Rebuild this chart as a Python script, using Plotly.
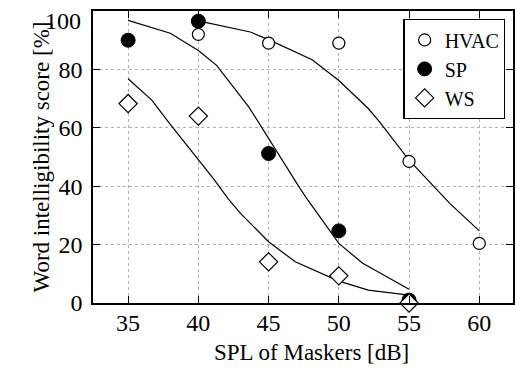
import plotly.graph_objects as go

# Measured data
spl = [35, 40, 45, 50, 55, 60]
hvac_x = [40, 45, 50, 55, 60]
hvac_y = [92, 89, 89, 48.5, 20.4]
sp_x = [35, 40, 45, 50, 55]
sp_y = [90, 96.5, 51.2, 24.7, 1]
ws_x = [35, 40, 45, 50, 55]
ws_y = [68.3, 64, 14.1, 9.3, 0]

# Fitted curves
hvac_fit_x = [40, 43.7, 45, 48.1, 50, 52.1, 52.9, 55, 57.9, 60]
hvac_fit_y = [96.6, 92.8, 90.2, 83.3, 76.2, 66.6, 62.0, 48.9, 34.1, 24.7]
sp_fit_x = [35, 38, 40, 41.3, 43.6, 45, 47.1, 47.8, 50, 51.7, 55]
sp_fit_y = [96.8, 92.4, 86.5, 81.4, 67.1, 56.3, 40.3, 35.2, 20.4, 13.6, 4.7]
ws_fit_x = [35, 36.7, 38, 40, 41.1, 42.1, 43, 44.3, 45, 46.9, 50, 52.1, 55]
ws_fit_y = [76.8, 69.4, 61.2, 48.9, 42.4, 35.8, 30.7, 24.4, 21.0, 14.1, 7.5, 4.4, 2.7]

x_ticks = [35, 40, 45, 50, 55, 60]
y_ticks = [0, 20, 40, 60, 80, 100]
y_ticktext = ["0", "20", "40", "60", "80", ""]  # top label drawn separately, kept inside the page
y_top_label = "100"

FONT = "Liberation Serif"

fig = go.Figure()
for fx, fy in [(hvac_fit_x, hvac_fit_y), (sp_fit_x, sp_fit_y), (ws_fit_x, ws_fit_y)]:
    fig.add_trace(go.Scatter(x=fx, y=fy, mode="lines", line=dict(color="black", width=1.2),
                             showlegend=False, hoverinfo="skip"))

fig.add_trace(go.Scatter(x=hvac_x, y=hvac_y, mode="markers", name="HVAC", cliponaxis=False,
                         marker=dict(symbol="circle", size=12, color="white",
                                     line=dict(color="black", width=1.2))))
fig.add_trace(go.Scatter(x=sp_x, y=sp_y, mode="markers", name="SP", cliponaxis=False,
                         marker=dict(symbol="circle", size=14, color="black",
                                     line=dict(color="black", width=1))))
fig.add_trace(go.Scatter(x=ws_x, y=ws_y, mode="markers", name="WS", cliponaxis=False,
                         marker=dict(symbol="diamond", size=14, color="white",
                                     line=dict(color="black", width=1.2))))

axis_common = dict(
    showline=True, linecolor="black", linewidth=1.5, mirror="allticks",
    ticks="inside", ticklen=7, tickwidth=1.2, tickcolor="black",
    showgrid=True, gridcolor="#b0b0b0", griddash="dot", gridwidth=1,
    zeroline=False, tickfont=dict(family=FONT, size=24, color="black"),
    ticklabeloverflow="allow", automargin=False,
)

fig.update_xaxes(range=[32.5, 62.4], tickvals=x_ticks, ticklabelstandoff=-3, **axis_common)
fig.update_yaxes(range=[0, 100], tickvals=y_ticks, ticktext=y_ticktext, ticklabelstandoff=4,
                 title=dict(text="Word intelligibility score [%]", font=dict(family=FONT, size=23, color="black"),
                            standoff=2),
                 **axis_common)

fig.add_annotation(text=y_top_label, xref="paper", yref="paper",
                   x=-0.024, y=0.967, xanchor="right", yanchor="middle", showarrow=False,
                   font=dict(family=FONT, size=24, color="black"))
fig.add_annotation(text="SPL of Maskers [dB]", xref="paper", yref="paper",
                   x=0.52, y=-0.168, xanchor="center", yanchor="middle", showarrow=False,
                   font=dict(family=FONT, size=23, color="black"))

fig.update_layout(
    width=515, height=374,
    margin=dict(l=93, r=2, t=11, b=71),
    paper_bgcolor="white", plot_bgcolor="white",
    font=dict(family=FONT, color="black"),
    legend=dict(x=0.982, y=0.972, xanchor="right", yanchor="top",
                bgcolor="white", bordercolor="black", borderwidth=1.2,
                font=dict(family=FONT, size=20, color="black")),
)

fig.write_html("out.html")
